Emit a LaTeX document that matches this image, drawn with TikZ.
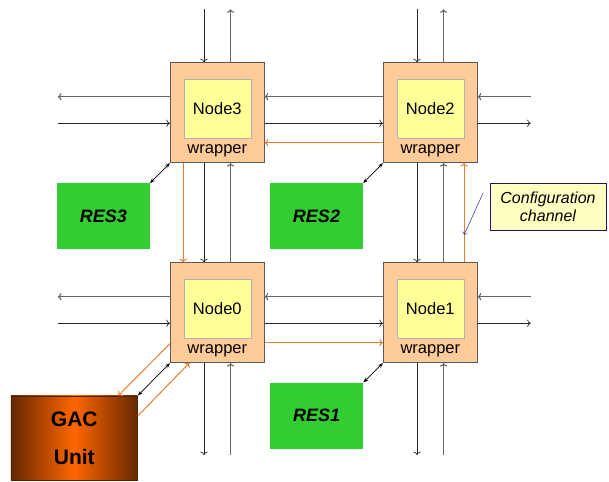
\documentclass[tikz,border=0pt]{standalone}
\usepackage{fontspec}
\setmainfont{Liberation Sans}
\usetikzlibrary{positioning, calc, arrows.meta}
\definecolor{wrapFill}{RGB}{255,204,153}
\definecolor{coreFill}{RGB}{255,255,153}
\definecolor{resGreen}{RGB}{51,204,51}
\definecolor{cfgOrange}{RGB}{232,125,50}
\definecolor{gacDark}{RGB}{100,40,0}
\definecolor{gacLight}{RGB}{255,102,0}
\definecolor{noteBlue}{RGB}{40,40,170}

\begin{document}
\begin{tikzpicture}[x=1pt, y=-1pt,
          wrap/.style={draw=black!65, fill=wrapFill, minimum width=94pt,
                       minimum height=100pt, inner sep=0pt, line width=0.8pt},
          core/.style={draw=black!30, fill=coreFill, minimum width=67pt,
                       minimum height=59pt, inner sep=0pt, font=\fontsize{16.5}{18}\selectfont},
          wlab/.style={font=\fontsize{16.5}{18}\selectfont},
          res/.style={fill=resGreen, minimum width=93pt, minimum height=66pt,
                      font=\fontsize{18}{20}\selectfont\bfseries\itshape},
          lnk/.style={-{To[length=3.5pt]}, black!85, line width=0.7pt},
          lnkg/.style={-{To[length=3.5pt]}, black!60, line width=1.1pt},
          cfg/.style={-{To[length=3.5pt]}, cfgOrange, line width=1pt},
          dbl/.style={{Stealth[length=5pt]}-{Stealth[length=5pt]}, black, line width=0.7pt}
        ]
        \useasboundingbox (0,0) rectangle (609,481);

        % wrappers with their cores
        \node[wrap] (wrap3) at (217.3,112.7) {};
        \node[wrap] (wrap2) at (430.3,112.7) {};
        \node[wrap] (wrap0) at (217.3,312.7) {};
        \node[wrap] (wrap1) at (430.3,312.7) {};
        \foreach \i in {0,...,3} {
          \node[core] (node\i) at ($(wrap\i)+(0,-3.7)$) {Node\i};
          \node[wlab] (wl\i)   at ($(wrap\i)+(0,38)$)   {wrapper};
        }

        % resources
        \node[res] (res3) at (103.3,216.3) {RES3};
        \node[res] (res2) at (316.5,216.3) {RES2};
        \node[res] (res1) at (316.7,415.7) {RES1};

        % GAC unit
        \node[draw=gacDark!80!black, left color=gacDark, right color=gacDark, middle color=gacLight,
              minimum width=126.7pt, minimum height=84.3pt, align=center,
              font=\fontsize{21}{24}\selectfont\bfseries]
              (gac) at (74.3,437.9) {GAC\\[14pt]Unit};

        % links between the wrappers
        \draw[lnkg] ($(wrap2.west)+(0,-16)$)   -- ($(wrap3.east)+(0,-16)$);
        \draw[lnk]  ($(wrap3.east)+(0,10.6)$)  -- ($(wrap2.west)+(0,10.6)$);
        \draw[lnkg] ($(wrap1.west)+(0,-16)$)   -- ($(wrap0.east)+(0,-16)$);
        \draw[lnk]  ($(wrap0.east)+(0,10.6)$)  -- ($(wrap1.west)+(0,10.6)$);
        \draw[lnk]  ($(wrap3.south)+(-13.3,0)$) -- ($(wrap0.north)+(-13.3,0)$);
        \draw[lnkg] ($(wrap0.north)+(13.3,0)$)  -- ($(wrap3.south)+(13.3,0)$);
        \draw[lnk]  ($(wrap2.south)+(-13.3,0)$) -- ($(wrap1.north)+(-13.3,0)$);
        \draw[lnkg] ($(wrap1.north)+(13.3,0)$)  -- ($(wrap2.south)+(13.3,0)$);

        % open ends at the border of the mesh
        \foreach \w in {wrap3, wrap2} {
          \draw[lnk]  ($(\w.north)+(-13.3,-53)$) -- ($(\w.north)+(-13.3,0)$);
          \draw[lnkg] ($(\w.north)+(13.3,0)$)    -- ($(\w.north)+(13.3,-53)$);
        }
        \foreach \w in {wrap0, wrap1} {
          \draw[lnk]  ($(\w.south)+(-13.3,0)$)   -- ($(\w.south)+(-13.3,92)$);
          \draw[lnkg] ($(\w.south)+(13.3,92)$)   -- ($(\w.south)+(13.3,0)$);
        }
        \foreach \w in {wrap3, wrap0} {
          \draw[lnkg] ($(\w.west)+(0,-16)$)      -- ($(\w.west)+(-112,-16)$);
          \draw[lnk]  ($(\w.west)+(-112,10.6)$)  -- ($(\w.west)+(0,10.6)$);
        }
        \foreach \w in {wrap2, wrap1} {
          \draw[lnkg] ($(\w.east)+(53,-16)$)     -- ($(\w.east)+(0,-16)$);
          \draw[lnk]  ($(\w.east)+(0,10.6)$)     -- ($(\w.east)+(53,10.6)$);
        }

        % configuration channel
        \draw[cfg] ($(wrap2.west)+(0,30)$)     -- ($(wrap3.east)+(0,30)$);
        \draw[cfg] ($(wrap3.south)+(-34,0)$)   -- ($(wrap0.north)+(-34,0)$);
        \draw[cfg] ($(wrap0.east)+(0,30)$)     -- ($(wrap1.west)+(0,30)$);
        \draw[cfg] ($(wrap1.north)+(33.7,0)$)  -- ($(wrap2.south)+(33.7,0)$);
        \draw[cfg] ($(wrap0.south west)+(0,-19.4)$) -- ($(gac.north east)+(-19.4,0)$);
        \draw[cfg] ($(gac.north east)+(0,20.3)$)    -- ($(wrap0.south west)+(19.3,0)$);

        % resource ports
        \draw[dbl] (res3.north east) -- (wrap3.south west);
        \draw[dbl] (res2.north east) -- (wrap2.south west);
        \draw[dbl] (res1.north east) -- (wrap1.south west);
        \draw[dbl] (gac.north east)  -- (wrap0.south west);

        % note
        \node[draw=noteBlue!60!black, fill=coreFill!60, minimum width=116pt, minimum height=47pt,
              align=center, font=\fontsize{16}{18.5}\selectfont\itshape]
              (note) at (548,206.7) {Configuration\\channel};
        \coordinate (cfgpt) at ($(wrap1.north)+(33.7,-27.3)$);
        \draw[->, noteBlue, line width=0.5pt] ($(note.north west)+(-6.7,10)$) -- (cfgpt);
      \end{tikzpicture}
\end{document}
